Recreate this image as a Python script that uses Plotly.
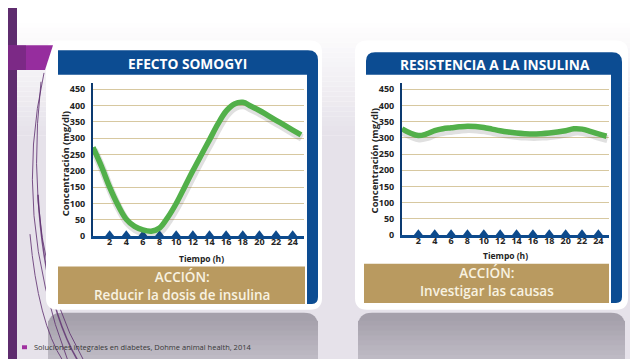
import plotly.graph_objects as go

# ---------------- data ----------------
hours = list(range(0, 26))
somogyi = [272, 215, 150, 95, 52, 30, 19, 15, 25, 58, 100, 150, 200, 248, 295,
           343, 383, 405, 410, 398, 385, 370, 355, 340, 325, 310]
resistencia = [328, 315, 307, 312, 322, 328, 331, 334, 336, 335, 332, 327, 322,
               318, 315, 313, 312, 313, 315, 318, 322, 328, 327, 320, 312, 305]
x_ticks = list(range(2, 25, 2))
y_ticks = list(range(0, 451, 50))
titles = ["EFECTO SOMOGYI", "RESISTENCIA A LA INSULINA"]
acciones = ["ACCIÓN:<br>Reducir la dosis de insulina", "ACCIÓN:<br>Investigar las causas"]
y_title = "Concentración (mg/dl)"
x_title = "Tiempo (h)"
footer = "Soluciones integrales en diabetes, Dohme animal health, 2014"

W, H = 638, 359
def X(p): return p / W
def Y(p): return 1 - p / H

def path(cmds):
    out = []
    for c in cmds:
        if c[0] in ("M", "L"):
            out.append(f"{c[0]}{X(c[1]):.5f},{Y(c[2]):.5f}")
        elif c[0] == "Q":
            out.append(f"Q{X(c[1]):.5f},{Y(c[2]):.5f} {X(c[3]):.5f},{Y(c[4]):.5f}")
        elif c[0] == "Z":
            out.append("Z")
    return " ".join(out)

def rrect(x0, y0, x1, y1, tl=0, tr=0, br=0, bl=0):
    return path([("M", x0 + tl, y0), ("L", x1 - tr, y0), ("Q", x1, y0, x1, y0 + tr),
                 ("L", x1, y1 - br), ("Q", x1, y1, x1 - br, y1), ("L", x0 + bl, y1),
                 ("Q", x0, y1, x0, y1 - bl), ("L", x0, y0 + tl), ("Q", x0, y0, x0 + tl, y0), ("Z",)])

shapes = []
def add_path(p, fill, line_color=None, lw=0, opacity=1):
    shapes.append(dict(type="path", path=p, xref="paper", yref="paper", fillcolor=fill,
                       line=dict(color=line_color or "rgba(0,0,0,0)", width=lw),
                       layer="below", opacity=opacity))

# background gradient bands
def lerp(c1, c2, t):
    return "rgb(%d,%d,%d)" % tuple(round(a + (b - a) * t) for a, b in zip(c1, c2))
top_c, bot_c = (255, 255, 255), (230, 226, 234)
n = 24
for i in range(n):
    y0 = 10 + i * 5
    t = i / (n - 1)
    shapes.append(dict(type="rect", xref="paper", yref="paper", x0=0, x1=1, y0=Y(y0 + 5), y1=Y(y0),
                       fillcolor=lerp(top_c, bot_c, t), line=dict(width=0), layer="below"))
shapes.append(dict(type="rect", xref="paper", yref="paper", x0=0, x1=1, y0=0, y1=Y(130),
                   fillcolor="rgb(230,226,234)", line=dict(width=0), layer="below"))

# reflections (vertical gradient, darker at top)
refl_top, refl_bot = (165, 160, 171), (190, 186, 196)
for (x0, x1) in [(40, 310), (350, 617)]:
    add_path(rrect(x0, 310, x1, 365, tl=14, tr=14), lerp(refl_top, refl_bot, 0))
    for i in range(8):
        yy = 318 + i * 5
        add_path(rrect(x0, yy, x1, 365), lerp(refl_top, refl_bot, (i + 1) / 8))

# decorative curves
curve_c = "rgb(92,44,110)"
for p, lw in [
    ([("M", 36, 66), ("Q", 4, 210, 60, 359)], 1),
    ([("M", 33, 75), ("Q", 14, 250, 76, 359)], 1),
    ([("M", 30, 190), ("Q", 36, 300, 70, 359)], 1.5),
    ([("M", 22, 230), ("Q", 30, 320, 55, 359)], 1),
]:
    shapes.append(dict(type="path", path=path(p), xref="paper", yref="paper",
                       line=dict(color=curve_c, width=lw), layer="below", opacity=0.8))

# white cards
add_path(rrect(38, 33, 314, 307, 12, 12, 12, 12), "white")
add_path(rrect(347, 33, 620, 307, 12, 12, 12, 12), "white")

# left purple strip and tab
shapes.append(dict(type="rect", xref="paper", yref="paper", x0=0, x1=X(9), y0=0, y1=1,
                   fillcolor="rgb(94,44,110)", line=dict(width=0), layer="below"))
add_path(path([("M", 0, 38), ("L", 45, 38), ("L", 37, 63), ("L", 0, 63), ("Z",)]), "rgb(150,45,158)")
add_path(path([("M", 0, 38), ("L", 18, 38), ("L", 18, 63), ("L", 0, 63), ("Z",)]), "rgb(112,40,124)", opacity=0.7)

# blue header + right strip
blue = "rgb(12,76,146)"
add_path(path([("M", 50, 43), ("L", 300, 43), ("Q", 310, 43, 310, 53), ("L", 310, 294),
               ("Q", 310, 301, 304, 301), ("L", 299, 301), ("L", 299, 68), ("L", 50, 68), ("Z",)]), blue)
add_path(path([("M", 358, 54), ("Q", 358, 45, 367, 45), ("L", 604, 45), ("Q", 614, 45, 614, 55),
               ("L", 614, 294), ("Q", 614, 300, 608, 300), ("L", 603, 300), ("L", 603, 68),
               ("L", 358, 68), ("Z",)]), blue)

# tan action boxes
tan = "rgb(185,154,96)"
add_path(rrect(50, 263, 297, 301), tan)
add_path(rrect(356, 260, 601, 300), tan)

# footer bullet
shapes.append(dict(type="rect", xref="paper", yref="paper", x0=X(14), x1=X(19), y0=Y(347), y1=Y(343),
                   fillcolor="rgb(160,48,160)", line=dict(width=0), layer="below"))

fig = go.Figure()

green = "rgb(82,176,74)"
axis_blue = "rgb(13,74,140)"
specs = [("x", "y", somogyi), ("x2", "y2", resistencia)]
for xa, ya, vals in specs:
    fig.add_trace(go.Scatter(x=x_ticks, y=[6] * len(x_ticks), mode="markers",
                             marker=dict(symbol="triangle-up", size=8, color=axis_blue),
                             xaxis=xa, yaxis=ya, showlegend=False, cliponaxis=False, hoverinfo="skip"))
    fig.add_trace(go.Scatter(x=[h + 0.12 for h in hours], y=[v - 9 for v in vals], mode="lines",
                             line=dict(color="rgba(60,60,60,0.16)", width=8, shape="spline", smoothing=1),
                             xaxis=xa, yaxis=ya, hoverinfo="skip", showlegend=False, cliponaxis=False))
    fig.add_trace(go.Scatter(x=hours, y=vals, mode="lines",
                             line=dict(color=green, width=5.5, shape="spline", smoothing=1),
                             xaxis=xa, yaxis=ya, showlegend=False, cliponaxis=False))

tickfont = dict(family="Open Sans", size=9, color="rgb(35,35,35)", weight=700)
grid = "rgb(215,200,160)"
common_x = dict(tickvals=x_ticks, showgrid=False, zeroline=False, showline=True,
                linecolor=axis_blue, linewidth=3, ticks="", tickfont=tickfont, ticklabelstandoff=-5)
common_y = dict(range=[0, 470], tickvals=y_ticks, showgrid=True, gridcolor=grid, gridwidth=1,
                zeroline=False, showline=True, linecolor="rgb(12,58,112)", linewidth=2,
                ticks="", tickfont=tickfont, ticklabelstandoff=4)

fig.update_layout(
    width=W, height=H, autosize=False,
    margin=dict(l=0, r=0, t=0, b=0),
    paper_bgcolor="white", plot_bgcolor="rgba(0,0,0,0)",
    shapes=shapes,
    xaxis=dict(domain=[X(85), X(295.5)], range=[0, 25.3], anchor="y", **common_x),
    yaxis=dict(domain=[Y(232), Y(76)], anchor="x", **common_y),
    xaxis2=dict(domain=[X(394), X(601)], range=[0, 25.3], anchor="y2", **common_x),
    yaxis2=dict(domain=[Y(231), Y(76)], anchor="x2", **common_y),
)

ann = []
title_font = dict(family="Open Sans", size=13.7, color="white", weight=700)
ann.append(dict(x=X(180), y=Y(56), text=titles[0], font=title_font))
ann.append(dict(x=X(487), y=Y(57), text=titles[1], font=title_font))
act_font = dict(family="Open Sans", size=13.5, color="rgb(248,242,225)", weight=600)
ann.append(dict(x=X(174), y=Y(283), text=acciones[0], font=act_font))
ann.append(dict(x=X(479), y=Y(279), text=acciones[1], font=act_font))
yt_font = dict(family="Open Sans", size=9.5, color="rgb(35,35,35)", weight=700)
ann.append(dict(x=X(57), y=Y(158), text=y_title, font=yt_font, textangle=-90))
ann.append(dict(x=X(366), y=Y(156), text=y_title, font=yt_font, textangle=-90))
xt_font = dict(family="Open Sans", size=8.5, color="rgb(35,35,35)", weight=700)
ann.append(dict(x=X(193), y=Y(255), text=x_title, font=xt_font))
ann.append(dict(x=X(497), y=Y(252), text=x_title, font=xt_font))
ann.append(dict(x=X(24), y=Y(345), text=footer, xanchor="left",
                font=dict(family="Open Sans", size=7.5, color="rgb(55,55,55)")))
for a in ann:
    a.setdefault("xanchor", "center")
    a.update(xref="paper", yref="paper", yanchor="middle", showarrow=False)
fig.update_layout(annotations=ann)

fig.write_html("out.html")
